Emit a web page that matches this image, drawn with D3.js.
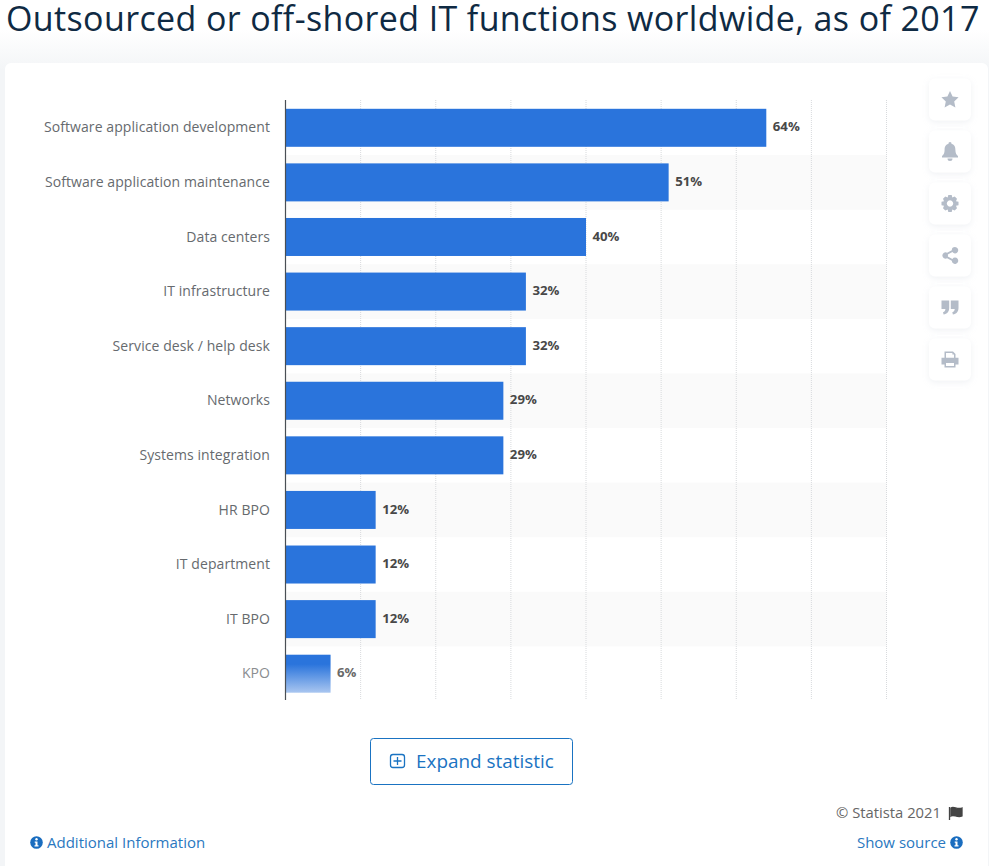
<!DOCTYPE html>
<html>
<head>
<meta charset="utf-8">
<script src="https://cdn.jsdelivr.net/npm/d3@7"></script>
<style>
  html, body { margin: 0; padding: 0; background: #fff; overflow: hidden; }
  text { font-family: "Open Sans", sans-serif; }
</style>
</head>
<body>
<div id="chart"></div>
<script>
const categories = [
  "Software application development",
  "Software application maintenance",
  "Data centers",
  "IT infrastructure",
  "Service desk / help desk",
  "Networks",
  "Systems integration",
  "HR BPO",
  "IT department",
  "IT BPO",
  "KPO"
];
const shares = [64, 51, 40, 32, 32, 29, 29, 12, 12, 12, 6];
const gridTicks = [10, 20, 30, 40, 50, 60, 70, 80];
const titleText = "Outsourced or off-shored IT functions worldwide, as of 2017";

const width = 989, height = 866;
const svg = d3.select("#chart").append("svg")
  .attr("width", width)
  .attr("height", height)
  .style("display", "block");

const defs = svg.append("defs");

const pageFade = defs.append("linearGradient").attr("id", "pageFade")
  .attr("x1", 0).attr("x2", 0).attr("y1", 0).attr("y2", 1);
pageFade.append("stop").attr("offset", "0%").attr("stop-color", "#ffffff");
pageFade.append("stop").attr("offset", "100%").attr("stop-color", "#f3f5f7");

const lastBarFade = defs.append("linearGradient").attr("id", "lastBarFade")
  .attr("x1", 0).attr("x2", 0).attr("y1", 0).attr("y2", 1);
lastBarFade.append("stop").attr("offset", "25%").attr("stop-color", "#2a74dc");
lastBarFade.append("stop").attr("offset", "100%").attr("stop-color", "#a9c6f0");

const shadow = defs.append("filter").attr("id", "softShadow")
  .attr("x", "-30%").attr("y", "-30%").attr("width", "160%").attr("height", "170%");
shadow.append("feDropShadow").attr("dx", 0).attr("dy", 2).attr("stdDeviation", 3)
  .attr("flood-color", "#b9c2cf").attr("flood-opacity", 0.22);

// page background and card
svg.append("rect").attr("x", 0).attr("y", 30).attr("width", width).attr("height", 40).attr("fill", "url(#pageFade)");
svg.append("rect").attr("x", 0).attr("y", 70).attr("width", width).attr("height", height - 70).attr("fill", "#f3f5f7");
svg.append("rect").attr("x", 5).attr("y", 63).attr("width", 983).attr("height", height).attr("rx", 6).attr("fill", "#fff");

svg.append("text")
  .attr("x", 6).attr("y", 31)
  .attr("font-size", 34)
  .attr("font-weight", 500)
  .attr("letter-spacing", 0.37)
  .attr("fill", "#0f2a43")
  .text(titleText);

// plot
const x = d3.scaleLinear().domain([0, 80]).range([285.5, 886.5]);
const y = d3.scaleBand().domain(categories).range([100.5, 701]).paddingInner(0).paddingOuter(0);
const barH = 38;

const plot = svg.append("g");

plot.selectAll("rect.stripe")
  .data(categories.filter((d, i) => i % 2 === 1))
  .join("rect")
  .attr("class", "stripe")
  .attr("x", x(0))
  .attr("y", d => y(d))
  .attr("width", x(80) - x(0))
  .attr("height", y.bandwidth())
  .attr("fill", "#fafafa");

plot.selectAll("line.grid")
  .data(gridTicks)
  .join("line")
  .attr("class", "grid")
  .attr("x1", d => x(d)).attr("x2", d => x(d))
  .attr("y1", 100).attr("y2", 700)
  .attr("stroke", "#d8dadd")
  .attr("stroke-width", 1)
  .attr("stroke-dasharray", "1 1");

plot.selectAll("rect.bar")
  .data(shares)
  .join("rect")
  .attr("class", "bar")
  .attr("x", x(0))
  .attr("y", (d, i) => y(categories[i]) + (y.bandwidth() - barH) / 2)
  .attr("width", d => x(d) - x(0))
  .attr("height", barH)
  .attr("fill", (d, i) => i === shares.length - 1 ? "url(#lastBarFade)" : "#2a74dc");

plot.append("line")
  .attr("x1", x(0)).attr("x2", x(0))
  .attr("y1", 100).attr("y2", 700)
  .attr("stroke", "#4a4f55").attr("stroke-width", 1.2);

plot.selectAll("text.cat")
  .data(categories)
  .join("text")
  .attr("class", "cat")
  .attr("x", 270)
  .attr("y", d => y(d) + y.bandwidth() / 2 + 4.6)
  .attr("text-anchor", "end")
  .attr("font-size", 14)
  .attr("letter-spacing", 0.08)
  .attr("fill", (d, i) => i === categories.length - 1 ? "#8a8d90" : "#666a6e")
  .text(d => d);

plot.selectAll("text.val")
  .data(shares)
  .join("text")
  .attr("class", "val")
  .attr("x", d => x(d) + 6.5)
  .attr("y", (d, i) => y(categories[i]) + y.bandwidth() / 2 + 3.6)
  .attr("font-size", 13.2)
  .attr("font-weight", 700)
  .attr("fill", (d, i) => i === shares.length - 1 ? "#6a6a6a" : "#484848")
  .text(d => d + "%");

// expand button
const btn = svg.append("g");
btn.append("rect")
  .attr("x", 370.5).attr("y", 738.5).attr("width", 202).attr("height", 46).attr("rx", 3)
  .attr("fill", "#fff").attr("stroke", "#1a73c2").attr("stroke-width", 1);
btn.append("rect")
  .attr("x", 390.5).attr("y", 754.5).attr("width", 14).attr("height", 13).attr("rx", 2.5)
  .attr("fill", "none").attr("stroke", "#1a73c2").attr("stroke-width", 1.3);
btn.append("path").attr("d", "M393.5 761h8M397.5 757v8").attr("stroke", "#1a73c2").attr("stroke-width", 1.3);
btn.append("text").attr("x", 416).attr("y", 768).attr("font-size", 18.9).attr("fill", "#1a73c2").text("Expand statistic");

// side buttons
const sideIcons = [
  "M0 -8.5L2.6 -3L8.6 -2.2L4.2 2L5.4 8L0 5L-5.4 8L-4.2 2L-8.6 -2.2L-2.6 -3Z",
  "M0 -9.5A1.5 1.5 0 0 1 1.5 -7.8C4.8 -7 5.4 -4.2 5.4 -1.6C5.4 1.6 6.4 3 8 4.6V6H-8V4.6C-6.4 3 -5.4 1.6 -5.4 -1.6C-5.4 -4.2 -4.8 -7 -1.5 -7.8A1.5 1.5 0 0 1 0 -9.5ZM-2.5 7H2.5A2.5 2.5 0 0 1 -2.5 7Z",
  "M-1.7 -8.5H1.7L2.3 -6L4.7 -7L7 -4.7L6 -2.3L8.5 -1.7V1.7L6 2.3L7 4.7L4.7 7L2.3 6L1.7 8.5H-1.7L-2.3 6L-4.7 7L-7 4.7L-6 2.3L-8.5 1.7V-1.7L-6 -2.3L-7 -4.7L-4.7 -7L-2.3 -6ZM0 -3.2A3.2 3.2 0 1 0 0.01 -3.2Z",
  "M5 -8.5A3.2 3.2 0 1 1 2.4 -3.4L-2.2 -1A3.2 3.2 0 0 1 -2.2 1L2.4 3.4A3.2 3.2 0 1 1 1.8 5.3L-2.9 2.8A3.2 3.2 0 1 1 -2.9 -2.8L1.8 -5.3A3.2 3.2 0 0 1 5 -8.5Z",
  "M-8.5 -7H-0.8V0.5C-0.8 4.2 -3 6.4 -6.4 7L-7 4.7C-5.4 4.3 -4.6 3.2 -4.6 1.6H-8.5ZM0.8 -7H8.5V0.5C8.5 4.2 6.3 6.4 2.9 7L2.3 4.7C3.9 4.3 4.7 3.2 4.7 1.6H0.8Z",
  "M-5.5 -8H3L5.5 -5.5V-1.8H8.5V5H5.5V8H-5.5V5H-8.5V-1.8H-5.5ZM-4 -6.6V-1.8H4V-4.9H2.4V-6.6ZM-4 3.4V6.6H4V3.4Z"
];
const side = svg.append("g").selectAll("g")
  .data(sideIcons)
  .join("g")
  .attr("transform", (d, i) => `translate(950,${99.5 + i * 52})`);
side.append("rect")
  .attr("x", -21).attr("y", -21).attr("width", 42).attr("height", 42).attr("rx", 6)
  .attr("fill", "#fff").attr("filter", "url(#softShadow)");
side.append("path")
  .attr("d", d => d)
  .attr("fill", "#b4bcc8")
  .attr("fill-rule", "evenodd");

// footer
svg.append("text").attr("x", 941).attr("y", 818).attr("text-anchor", "end")
  .attr("font-size", 14.8).attr("fill", "#666").text("© Statista 2021");
svg.append("path")
  .attr("d", "M949.5 807V820M951 808C954 806 957 810 962 808V816C957 818 954 814 951 816Z")
  .attr("stroke", "#444").attr("stroke-width", 1.3).attr("fill", "#444");

const infoIcon = (cx, cy) => {
  const g = svg.append("g").attr("transform", `translate(${cx},${cy})`);
  g.append("circle").attr("r", 6.3).attr("fill", "#1a6dbf");
  g.append("circle").attr("cy", -3.2).attr("r", 1.2).attr("fill", "#fff");
  g.append("path").attr("d", "M-1.8 -1H1V2.8H2V4H-2V2.8H-1V0.2H-1.8Z").attr("fill", "#fff");
};
infoIcon(36.5, 842.5);
svg.append("text").attr("x", 47).attr("y", 847.5)
  .attr("font-size", 15).attr("fill", "#2a78c0").text("Additional Information");
svg.append("text").attr("x", 946).attr("y", 847.5).attr("text-anchor", "end")
  .attr("font-size", 15).attr("fill", "#2a78c0").text("Show source");
infoIcon(956.5, 842.5);
</script>
</body>
</html>
